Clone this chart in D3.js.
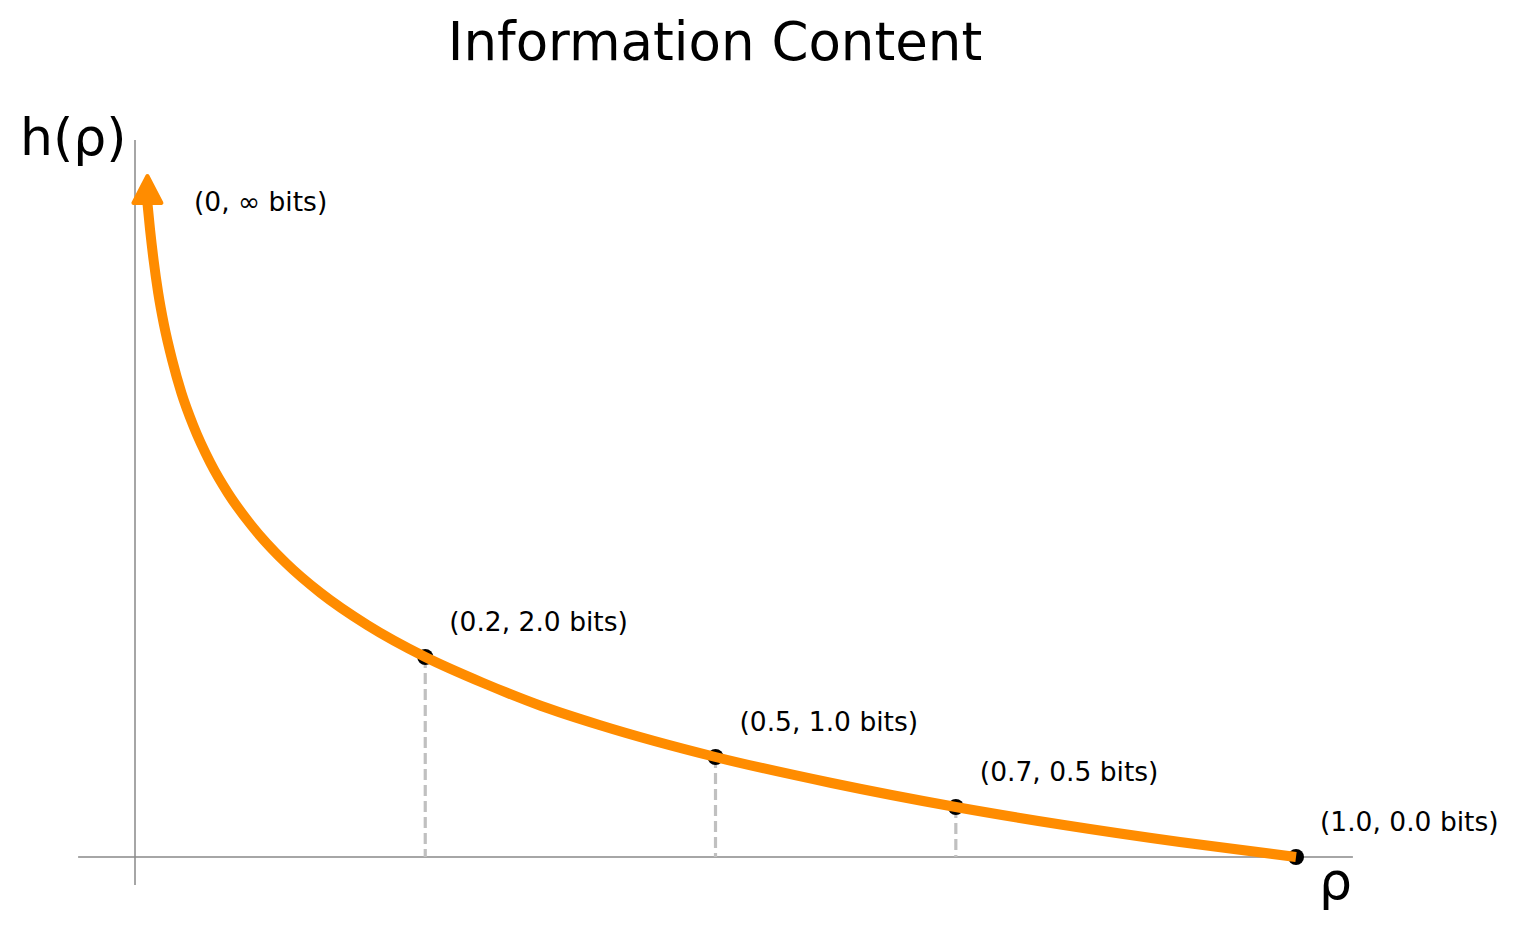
<!DOCTYPE html>
<html>
<head>
<meta charset="utf-8">
<script src="https://cdn.jsdelivr.net/npm/d3@7"></script>
<style>
  body { margin: 0; background: #fff; }
  text { font-family: "DejaVu Sans", sans-serif; fill: #000; }
</style>
</head>
<body>
<svg id="chart" width="1517" height="930"></svg>
<script>
// curve h(p) (p from 1 down to the arrow base)
const curveP = [1.0, 0.9, 0.8, 0.707, 0.6, 0.5, 0.4, 0.35, 0.3, 0.25, 0.2, 0.16, 0.13, 0.1,
                0.08, 0.065, 0.05, 0.04, 0.032, 0.025, 0.02, 0.016, 0.013, 0.0107];
const curveH = [0.0, 0.15, 0.32, 0.5, 0.74, 1.0, 1.32, 1.51, 1.74, 2.0, 2.32, 2.64, 2.94, 3.32,
                3.64, 3.94, 4.32, 4.64, 4.97, 5.32, 5.64, 5.97, 6.27, 6.54];

// marked points and their labels
const pointP = [0.25, 0.5, 0.707, 1.0];
const pointH = [2.0, 1.0, 0.5, 0.0];
const pointLabels = ["(0.2, 2.0 bits)", "(0.5, 1.0 bits)", "(0.7, 0.5 bits)", "(1.0, 0.0 bits)"];

const infLabel = "(0, \u221e bits)";
const infAt = [0.0508, 6.46];

const title = "Information Content";
const xLabel = "\u03c1";
const yLabel = "h(\u03c1)";

const orange = "#ff8c00";

var svg = d3.select("#chart");

var x = d3.scaleLinear().domain([0, 1]).range([135, 1296]);
var y = d3.scaleLinear().domain([0, 7]).range([857, 157]);

// axis lines through the origin
svg.append("line")
    .attr("x1", x(-0.049)).attr("x2", x(1.049))
    .attr("y1", y(0)).attr("y2", y(0))
    .attr("stroke", "#888").attr("stroke-width", 1.5);
svg.append("line")
    .attr("x1", x(0)).attr("x2", x(0))
    .attr("y1", y(7.17)).attr("y2", y(-0.28))
    .attr("stroke", "#888").attr("stroke-width", 1.5);

// dashed drops
svg.append("g").selectAll("line")
  .data(pointP.slice(0, 3))
  .enter().append("line")
    .attr("x1", d => x(d)).attr("x2", d => x(d))
    .attr("y1", (d, i) => y(pointH[i])).attr("y2", y(0))
    .attr("stroke", "#c0c0c0")
    .attr("stroke-width", 3.2)
    .attr("stroke-dasharray", "11,5");

// dots
svg.append("g").selectAll("circle")
  .data(pointP)
  .enter().append("circle")
    .attr("cx", d => x(d))
    .attr("cy", (d, i) => y(pointH[i]))
    .attr("r", 8)
    .attr("fill", "#000");

// arrow head
svg.append("defs").append("marker")
    .attr("id", "head")
    .attr("markerUnits", "userSpaceOnUse")
    .attr("viewBox", "-4 -20 40 40")
    .attr("markerWidth", 40).attr("markerHeight", 40)
    .attr("refX", 0).attr("refY", 0)
    .attr("orient", -90)
  .append("path")
    .attr("d", "M0,-14 L27,0 L0,14 Z")
    .attr("fill", orange)
    .attr("stroke", orange)
    .attr("stroke-width", 4)
    .attr("stroke-linejoin", "round");

var line = d3.line()
    .x((d, i) => x(curveP[i]))
    .y((d, i) => y(curveH[i]))
    .curve(d3.curveMonotoneX);

svg.append("path")
    .datum(curveP)
    .attr("d", line)
    .attr("fill", "none")
    .attr("stroke", orange)
    .attr("stroke-width", 10)
    .attr("marker-end", "url(#head)");

// labels
svg.append("g").selectAll("text")
  .data(pointLabels)
  .enter().append("text")
    .attr("x", (d, i) => x(pointP[i]) + 24)
    .attr("y", (d, i) => y(pointH[i]) - 26)
    .attr("font-size", "26.5px")
    .text(d => d);

svg.append("text")
    .attr("x", x(infAt[0])).attr("y", y(infAt[1]))
    .attr("font-size", "26.5px")
    .text(infLabel);

svg.append("text")
    .attr("x", 715).attr("y", 60)
    .attr("text-anchor", "middle")
    .attr("font-size", "53px")
    .text(title);

svg.append("text")
    .attr("x", 20).attr("y", 155)
    .attr("font-size", "52px")
    .text(yLabel);

svg.append("text")
    .attr("x", 1352).attr("y", 899)
    .attr("text-anchor", "end")
    .attr("font-size", "52px")
    .text(xLabel);
</script>
</body>
</html>
